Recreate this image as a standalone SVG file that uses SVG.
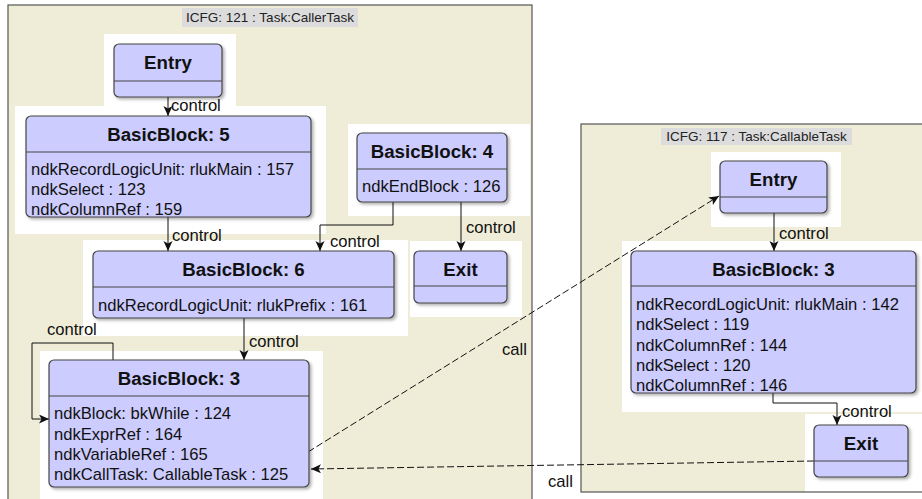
<svg xmlns="http://www.w3.org/2000/svg" width="922" height="499" viewBox="0 0 922 499">
<defs>
<style>
.cont{fill:#EFEDD8;stroke:none}
.cb{fill:none;stroke:#555;stroke-width:1.2}
.ttl{fill:#DCDCDC}
.ttx{font-family:"Liberation Sans",Arial,sans-serif;font-size:13.5px;fill:#222;text-anchor:middle}
.bg{fill:#fff}
.box{fill:#CCCCFF;stroke:#444;stroke-width:1.2;filter:url(#sh)}
.sep{stroke:#444;stroke-width:1.2}
.hd{font-family:"Liberation Sans",Arial,sans-serif;font-size:18.7px;font-weight:bold;fill:#111;text-anchor:middle}
.at{font-family:"Liberation Sans",Arial,sans-serif;font-size:16.6px;fill:#111}
.e{fill:none;stroke:#111;stroke-width:1;marker-end:url(#ah)}
.c{fill:none;stroke:#111;stroke-width:1;stroke-dasharray:7 3;marker-end:url(#ah)}
.lb{font-family:"Liberation Sans",Arial,sans-serif;font-size:16.6px;fill:#111}
</style>
<filter id="sh" x="-10%" y="-10%" width="130%" height="130%"><feDropShadow dx="2" dy="2" stdDeviation="1.5" flood-color="#000" flood-opacity="0.3"/></filter>
<marker id="ah" markerUnits="userSpaceOnUse" markerWidth="12" markerHeight="10" refX="10" refY="4.5" orient="auto"><path d="M0,0 L10,4.5 L0,9 L2.5,4.5 z" fill="#111"/></marker>
</defs>
<rect width="922" height="499" fill="#fff"/>

<g id="icfg121">
<rect class="cont" x="8" y="5" width="524" height="500"/>
<rect class="bg" x="104" y="34" width="132" height="73"/>
<rect class="bg" x="15" y="106" width="311" height="128"/>
<rect class="bg" x="348" y="124" width="182" height="92"/>
<rect class="bg" x="83" y="240" width="325" height="96"/>
<rect class="bg" x="410" y="241" width="112" height="76"/>
<rect class="bg" x="40" y="351" width="283" height="154"/>
<rect class="cb" x="8" y="5" width="524" height="500"/>
<rect class="ttl" x="182" y="8" width="176" height="19"/>
<text class="ttx" x="270" y="22">ICFG: 121 : Task:CallerTask</text>
</g>

<g id="icfg117">
<rect class="cont" x="581" y="124" width="360" height="368"/>
<rect class="bg" x="711" y="152" width="130" height="75"/>
<rect class="bg" x="622" y="241" width="310" height="171"/>
<rect class="bg" x="805" y="414" width="127" height="78"/>
<rect class="cb" x="581" y="124" width="360" height="368"/>
<rect class="ttl" x="661" y="128" width="191" height="17"/>
<text class="ttx" x="756.5" y="141">ICFG: 117 : Task:CallableTask</text>
</g>

<g id="edges">
<path class="e" d="M168,97 V116"/>
<path class="e" d="M168,217 V251"/>
<path class="e" d="M393,202 V225 H320 V251"/>
<path class="e" d="M461,202 V251"/>
<path class="e" d="M244,318 V360"/>
<path class="e" d="M113,360 V343 H32 V419 H49"/>
<path class="c" d="M308,452 L719,196"/>
<path class="c" d="M814,461 L311,469"/>
<path class="e" d="M774,213 V251"/>
<path class="e" d="M773,393 V403 H837 V425"/>
<text class="lb" x="171" y="111">control</text>
<text class="lb" x="172" y="241">control</text>
<text class="lb" x="330" y="247">control</text>
<text class="lb" x="466" y="233">control</text>
<text class="lb" x="249" y="347">control</text>
<text class="lb" x="47" y="335">control</text>
<text class="lb" x="502" y="355">call</text>
<text class="lb" x="548" y="487">call</text>
<text class="lb" x="779" y="239">control</text>
<text class="lb" x="842" y="417">control</text>
</g>

<g id="entry121">
<rect class="box" x="114" y="44" width="108" height="53" rx="5"/>
<line class="sep" x1="114" y1="81" x2="222" y2="81"/>
<text class="hd" x="168" y="69">Entry</text>
</g>
<g id="bb5">
<rect class="box" x="26" y="116" width="285" height="101" rx="5"/>
<line class="sep" x1="26" y1="152" x2="311" y2="152"/>
<text class="hd" x="168.5" y="141">BasicBlock: 5</text>
<text class="at" x="31" y="175">ndkRecordLogicUnit: rlukMain : 157</text>
<text class="at" x="31" y="195">ndkSelect : 123</text>
<text class="at" x="31" y="215">ndkColumnRef : 159</text>
</g>
<g id="bb4">
<rect class="box" x="357" y="133" width="150" height="69" rx="5"/>
<line class="sep" x1="357" y1="169" x2="507" y2="169"/>
<text class="hd" x="432" y="158">BasicBlock: 4</text>
<text class="at" x="362" y="192">ndkEndBlock : 126</text>
</g>
<g id="bb6">
<rect class="box" x="93" y="251" width="301" height="67" rx="5"/>
<line class="sep" x1="93" y1="287" x2="394" y2="287"/>
<text class="hd" x="243.5" y="276">BasicBlock: 6</text>
<text class="at" x="98" y="311">ndkRecordLogicUnit: rlukPrefix : 161</text>
</g>
<g id="exit121">
<rect class="box" x="414" y="251" width="93" height="52" rx="5"/>
<line class="sep" x1="414" y1="286" x2="507" y2="286"/>
<text class="hd" x="460.5" y="276">Exit</text>
</g>
<g id="bb3a">
<rect class="box" x="49" y="360" width="260" height="127" rx="5"/>
<line class="sep" x1="49" y1="396" x2="309" y2="396"/>
<text class="hd" x="179" y="385">BasicBlock: 3</text>
<text class="at" x="54" y="419">ndkBlock: bkWhile : 124</text>
<text class="at" x="54" y="439.5">ndkExprRef : 164</text>
<text class="at" x="54" y="460">ndkVariableRef : 165</text>
<text class="at" x="54" y="480">ndkCallTask: CallableTask : 125</text>
</g>
<g id="entry117">
<rect class="box" x="720" y="161" width="107" height="52" rx="5"/>
<line class="sep" x1="720" y1="197" x2="827" y2="197"/>
<text class="hd" x="773.5" y="186">Entry</text>
</g>
<g id="bb3b">
<rect class="box" x="631" y="251" width="285" height="142" rx="5"/>
<line class="sep" x1="631" y1="286" x2="916" y2="286"/>
<text class="hd" x="773.5" y="276">BasicBlock: 3</text>
<text class="at" x="636" y="310">ndkRecordLogicUnit: rlukMain : 142</text>
<text class="at" x="636" y="330.3">ndkSelect : 119</text>
<text class="at" x="636" y="350.6">ndkColumnRef : 144</text>
<text class="at" x="636" y="370.9">ndkSelect : 120</text>
<text class="at" x="636" y="391">ndkColumnRef : 146</text>
</g>
<g id="exit117">
<rect class="box" x="814" y="425" width="94" height="52" rx="5"/>
<line class="sep" x1="814" y1="461" x2="908" y2="461"/>
<text class="hd" x="861" y="450">Exit</text>
</g>
</svg>
